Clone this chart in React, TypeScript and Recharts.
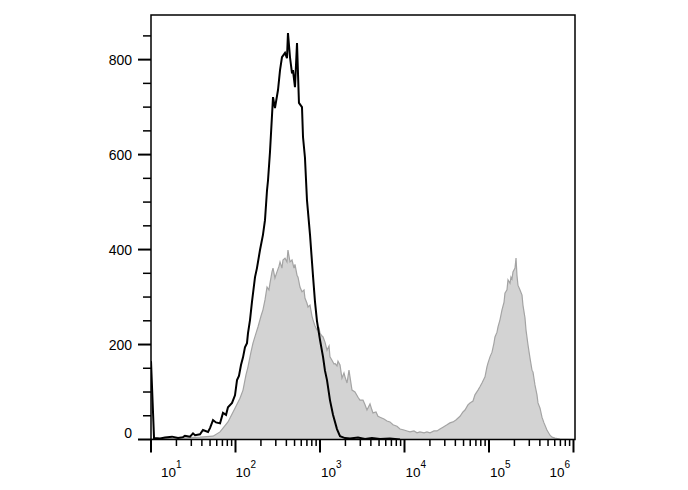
import { ComposedChart, Area, Line, XAxis, YAxis, ReferenceArea } from "recharts";

// black histogram (unstained / control), x in log10 units
const blackLog = [
  1.0, 1.036, 1.107, 1.166, 1.249, 1.32, 1.379, 1.402, 1.462, 1.497, 1.521, 1.58, 1.615, 1.675,
  1.698, 1.734, 1.769, 1.817, 1.852, 1.888, 1.911, 1.959, 1.994, 2.018, 2.041, 2.065, 2.089,
  2.112, 2.136, 2.148, 2.172, 2.195, 2.231, 2.254, 2.29, 2.325, 2.349, 2.373, 2.385, 2.408,
  2.444, 2.467, 2.503, 2.527, 2.55, 2.586, 2.609, 2.621, 2.645, 2.669, 2.68, 2.704, 2.728,
  2.751, 2.787, 2.799, 2.822, 2.846, 2.882, 2.917, 2.941, 2.964, 3.0, 3.036, 3.059, 3.083,
  3.118, 3.154, 3.201, 3.237, 3.296, 3.355, 3.45, 3.533, 3.615, 3.71, 3.828, 3.947,
];
const blackCount = [
  165, 3, 2, 4, 6, 3, 5, 8, 6, 13, 9, 11, 20, 16,
  24, 41, 36, 34, 56, 52, 68, 77, 93, 125, 134, 157, 173,
  194, 203, 224, 252, 290, 342, 361, 399, 431, 462, 525, 546, 605,
  721, 698, 736, 778, 805, 814, 803, 856, 805, 771, 778, 742, 835,
  709, 700, 637, 594, 504, 431, 345, 290, 250, 210, 174, 145, 125,
  83, 52, 22, 7, 3, 2, 4, 1, 3, 1, 2, 0,
];

// grey filled histogram (stained sample)
const greyLog = [
  1.0, 1.343, 1.58, 1.734, 1.817, 1.911, 1.994, 2.053, 2.089, 2.124, 2.148, 2.183, 2.207,
  2.243, 2.266, 2.302, 2.325, 2.349, 2.373, 2.396, 2.408, 2.432, 2.444, 2.467, 2.491, 2.515,
  2.527, 2.55, 2.562, 2.586, 2.609, 2.621, 2.633, 2.645, 2.669, 2.692, 2.704, 2.728, 2.74,
  2.763, 2.787, 2.811, 2.822, 2.846, 2.858, 2.882, 2.905, 2.917, 2.941, 2.964, 2.988, 3.0,
  3.024, 3.036, 3.059, 3.083, 3.107, 3.118, 3.142, 3.166, 3.178, 3.201, 3.213, 3.237, 3.26,
  3.284, 3.296, 3.32, 3.343, 3.355, 3.379, 3.414, 3.45, 3.473, 3.509, 3.533, 3.556, 3.592,
  3.615, 3.627, 3.663, 3.686, 3.71, 3.757, 3.793, 3.828, 3.864, 3.911, 3.947, 3.994, 4.03,
  4.065, 4.112, 4.148, 4.183, 4.231, 4.266, 4.302, 4.349, 4.385, 4.42, 4.456, 4.503, 4.538,
  4.574, 4.609, 4.657, 4.692, 4.716, 4.751, 4.775, 4.811, 4.834, 4.87, 4.893, 4.917, 4.953,
  4.976, 4.988, 5.012, 5.036, 5.059, 5.071, 5.095, 5.107, 5.13, 5.154, 5.178, 5.189, 5.213,
  5.225, 5.249, 5.26, 5.272, 5.284, 5.308, 5.32, 5.331, 5.343, 5.367, 5.391, 5.402, 5.426,
  5.438, 5.462, 5.485, 5.509, 5.521, 5.544, 5.568, 5.58, 5.604, 5.627, 5.651, 5.686, 5.722,
  5.746, 5.781, 5.84, 6.018,
];
const greyCount = [
  1, 3, 5, 7, 16, 37, 66, 87, 104, 136, 153, 184, 203,
  224, 237, 260, 273, 294, 321, 315, 329, 353, 361, 340, 353, 365,
  374, 361, 378, 382, 374, 399, 386, 374, 378, 361, 369, 346, 342,
  321, 311, 315, 298, 287, 279, 283, 260, 252, 239, 231, 235, 224,
  218, 216, 205, 188, 197, 174, 167, 159, 160, 155, 165, 157, 129,
  140, 132, 119, 146, 132, 104, 100, 89, 83, 83, 73, 62, 75,
  62, 56, 58, 49, 47, 43, 39, 37, 31, 28, 22, 20, 18,
  16, 18, 14, 16, 14, 16, 14, 18, 18, 22, 26, 31, 35,
  37, 41, 49, 58, 62, 73, 77, 81, 94, 104, 111, 119, 132,
  153, 161, 174, 184, 203, 216, 226, 237, 252, 273, 289, 308, 315,
  336, 329, 342, 338, 353, 361, 382, 346, 325, 315, 304, 283, 256,
  231, 199, 172, 146, 142, 115, 94, 77, 66, 47, 35, 20, 9,
  5, 3, 1, 0,
];

const xDecades = [1, 2, 3, 4, 5, 6];
const xMinorSteps = [2, 3, 4, 5, 6, 7, 8, 9];
const yTicks = [0, 50, 100, 150, 200, 250, 300, 350, 400, 450, 500, 550, 600, 650, 700, 750, 800, 850];
const yLabelStep = 200;

const X_MIN = 1;
const X_MAX = 6.018;
const Y_MAX = 894;

const xTicks: number[] = [];
xDecades.forEach((d) => {
  xTicks.push(d);
  if (d < 6) xMinorSteps.forEach((k) => xTicks.push(d + Math.log10(k)));
});

// merged table, one row per x position
const rowMap = new Map<number, any>();
blackLog.forEach((x, i) => {
  const r = rowMap.get(x) ?? { x };
  r.black = blackCount[i];
  rowMap.set(x, r);
});
greyLog.forEach((x, i) => {
  const r = rowMap.get(x) ?? { x };
  r.grey = greyCount[i];
  rowMap.set(x, r);
});
const rows = [...rowMap.values()].sort((a, b) => a.x - b.x);

const FONT = "'Liberation Sans', Arial, sans-serif";

// label start offsets (px) relative to each decade tick
const labelShift: Record<number, number> = { 1: 10, 2: 0, 3: 1, 4: 1, 5: 1, 6: -24 };

const XTick = (props: any) => {
  const { x, y, payload } = props;
  const v = payload.value;
  const exp = Math.round(v);
  const major = Math.abs(v - exp) < 1e-6;
  return (
    <g>
      <line x1={x} x2={x} y1={y} y2={y + (major ? 13 : 6.5)} stroke="#000" strokeWidth={major ? 2 : 1.5} />
      {major && (
        <text x={x + labelShift[exp]} y={y + 37.5} fontFamily={FONT} fontSize={13.5} fill="#000" textAnchor="start">
          10
          <tspan dy={-9} fontSize={10}>
            {exp}
          </tspan>
        </text>
      )}
    </g>
  );
};

const YTick = (props: any) => {
  const { x, y, payload } = props;
  const v = payload.value;
  const major = v % yLabelStep === 0;
  return (
    <g>
      <line x1={x - (major ? 13 : 8)} x2={x} y1={y} y2={y} stroke="#000" strokeWidth={major ? 2 : 1.5} />
      {major && (
        <text x={x - 19} y={v === 0 ? y - 1.5 : y + 5} fontFamily={FONT} fontSize={14} fill="#000" textAnchor="end">
          {v}
        </text>
      )}
    </g>
  );
};

export default function App() {
  return (
    <div style={{ position: "absolute", left: 0, top: 0, width: 688, height: 490, background: "#fff" }}>
      <ComposedChart
        width={688}
        height={490}
        data={rows}
        margin={{ top: 15, right: 113, bottom: 10, left: 111 }}
      >
        <XAxis
          dataKey="x"
          type="number"
          domain={[X_MIN, X_MAX]}
          allowDataOverflow
          ticks={xTicks}
          interval={0}
          tick={<XTick />}
          tickLine={false}
          axisLine={false}
          tickSize={0}
          tickMargin={0}
          height={40.5}
        />
        <YAxis
          type="number"
          domain={[0, Y_MAX]}
          allowDataOverflow
          ticks={yTicks}
          interval={0}
          tick={<YTick />}
          tickLine={false}
          axisLine={false}
          tickSize={0}
          tickMargin={0}
          width={40}
        />
        <Area
          dataKey="grey"
          type="linear"
          stroke="#a4a4a4"
          strokeWidth={1.2}
          fill="#d3d3d3"
          fillOpacity={1}
          connectNulls
          dot={false}
          activeDot={false}
          isAnimationActive={false}
        />
        <Line
          dataKey="black"
          type="linear"
          stroke="#000"
          strokeWidth={2}
          connectNulls
          dot={false}
          activeDot={false}
          isAnimationActive={false}
        />
        <ReferenceArea
          x1={X_MIN}
          x2={X_MAX}
          y1={0}
          y2={Y_MAX}
          fill="none"
          stroke="#000"
          strokeWidth={1.5}
          ifOverflow="visible"
        />
      </ComposedChart>
    </div>
  );
}
